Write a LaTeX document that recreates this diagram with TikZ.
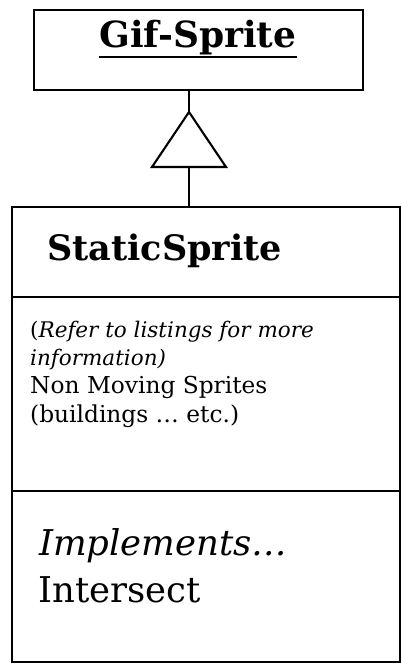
\documentclass[tikz,border=0pt]{standalone}
\usepackage{fontspec}
\setmainfont{DejaVu Serif}
\usetikzlibrary{positioning}
\tikzset{
  classbox/.style={draw, line width=2.1pt, inner sep=0pt, outer sep=0pt,
    minimum width=#1},
  classbox/.default=388pt,
  link/.style={line width=2.1pt},
  titletext/.style={inner sep=0pt, font=\fontsize{36}{43}\selectfont\bfseries},
  nametext/.style={inner sep=0pt, font=\fontsize{35}{42}\selectfont\bfseries},
  notetext/.style={inner sep=0pt, font=\fontsize{21.5}{26}\selectfont},
  bodytext/.style={inner sep=0pt, font=\fontsize{23.3}{28}\selectfont},
  optext/.style={inner sep=0pt, font=\fontsize{35.5}{42}\selectfont},
}

\begin{document}
\begin{tikzpicture}[x=1pt, y=-1pt]
  \useasboundingbox (0,0) rectangle (401,664);

  % superclass
  \node[classbox=329pt, minimum height=80pt] (gif) at (198.5,50) {};
  \node[titletext, anchor=base] (giftxt) at (198,47) {Gif-Sprite};
  \draw[line width=2.6pt] ([yshift=-10pt]giftxt.base west) -- ([yshift=-10pt]giftxt.base east);

  % subclass with its three compartments
  \node[classbox, minimum height=90pt] (static) at (206,252) {};
  \node[classbox, minimum height=194pt, below=0pt of static] (body) {};
  \node[classbox, minimum height=171pt, below=0pt of body] (ops) {};

  \node[nametext, anchor=base west] (stname) at (47,260) {StaticSprite};

  \node[notetext, anchor=base west] (b1) at (30,337) {(\textit{Refer to listings for more}};
  \node[notetext, anchor=base west] (b2) at (30,365) {\textit{information)}};
  \node[bodytext, anchor=base west] (b3) at (30,393) {Non Moving Sprites};
  \node[bodytext, anchor=base west] (b4) at (30,422) {(buildings \dots\ etc.)};

  \node[optext, anchor=base west] (o1) at (39,555) {\textit{Implements\dots}};
  \node[optext, anchor=base west] (o2) at (38,602) {Intersect};

  % generalisation arrow
  \coordinate (tip) at (189,112);
  \coordinate (foot) at (189,167);
  \draw[link] (tip) -- ++(-37,55) -- ++(74,0) -- cycle;
  \draw[link] (tip |- gif.south) -- (tip);
  \draw[link] (foot) -- (foot |- static.north);
\end{tikzpicture}
\end{document}
